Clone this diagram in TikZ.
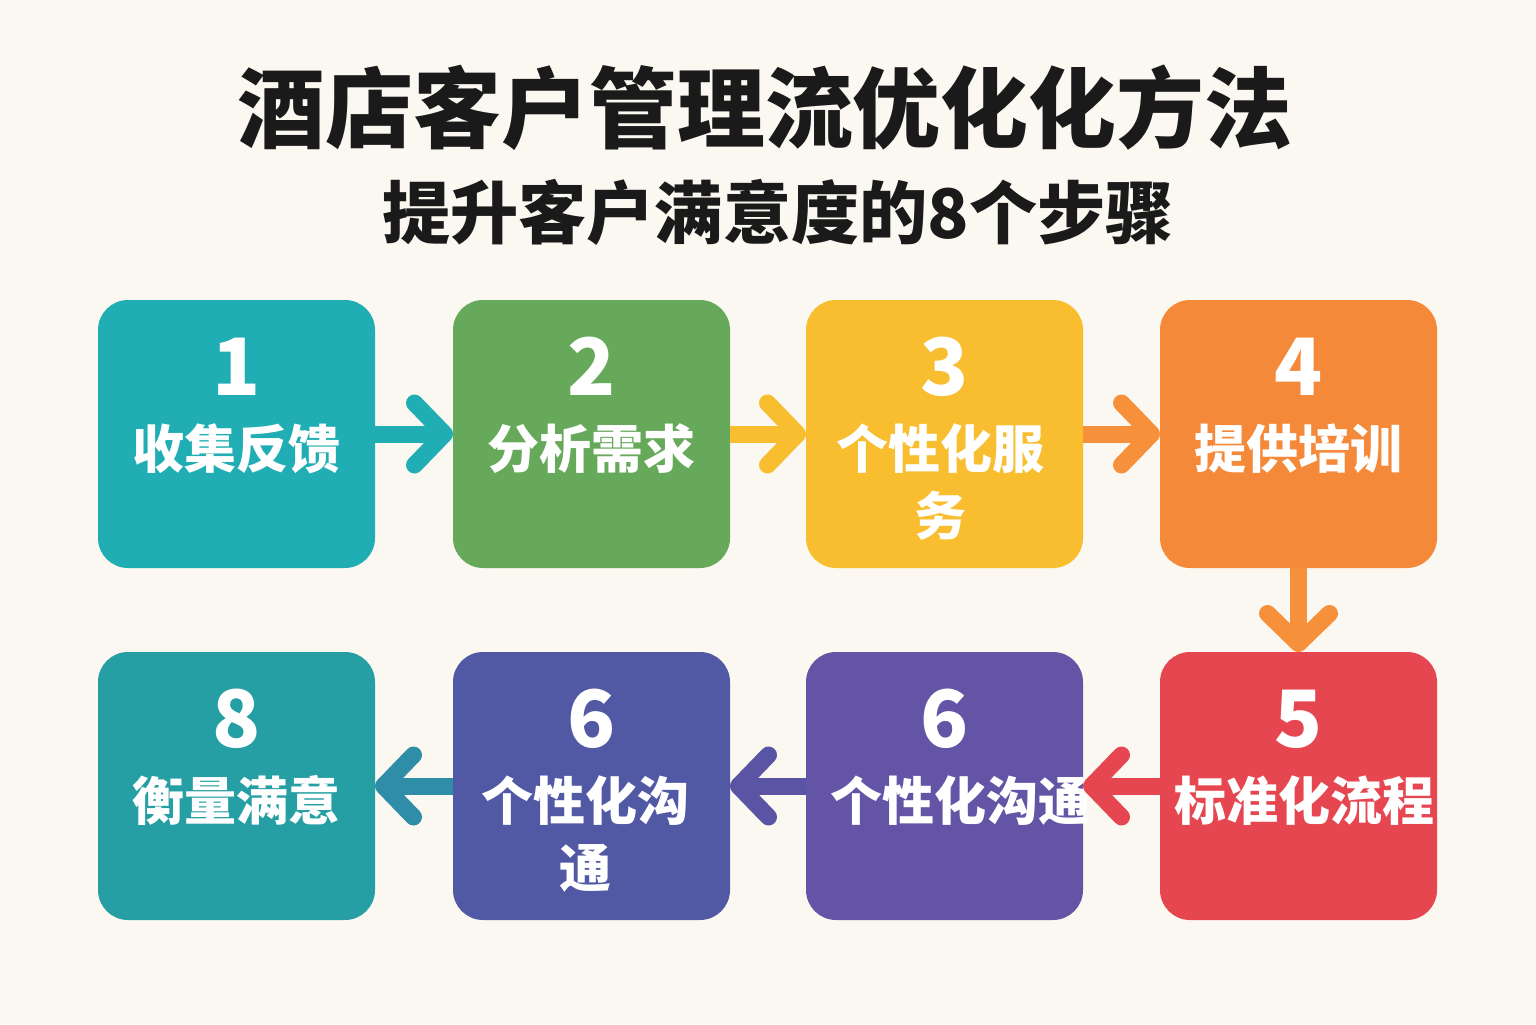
\documentclass[tikz,border=0pt]{standalone}
\usepackage{fontspec}
\setmainfont{Noto Sans CJK SC}
\usetikzlibrary{positioning,arrows.meta}

\definecolor{bgcream}{HTML}{FBF8F1}
\definecolor{titleink}{HTML}{1A1A1A}
\definecolor{cteal}{HTML}{20AEB4}
\definecolor{cgreen}{HTML}{66A95B}
\definecolor{cyellow}{HTML}{F8BE2F}
\definecolor{corange}{HTML}{F5893A}
\definecolor{cred}{HTML}{E5464F}
\definecolor{cpurple}{HTML}{6454A6}
\definecolor{cindigo}{HTML}{5259A4}
\definecolor{cteal2}{HTML}{259FA3}
\definecolor{aorange}{HTML}{F6903A}
\definecolor{aindigo}{HTML}{5A54A5}
\definecolor{ablue}{HTML}{2F8DA7}

\begin{document}
\begin{tikzpicture}
\tikzstyle{stepbox} = [rectangle, rounded corners=0.3cm, minimum width=2.77cm, minimum height=2.68cm, inner sep=0pt, outer sep=0pt]
\tikzstyle{num}     = [text=white, font=\fontsize{22.5pt}{24pt}\selectfont\bfseries, anchor=base, inner sep=0pt]
\tikzstyle{lbl}     = [text=white, font=\fontsize{14.8pt}{19pt}\selectfont\bfseries, anchor=base, align=center, inner sep=0pt]
\tikzstyle{arrow}   = [line width=0.17cm, -{Straight Barb[length=0.3cm, width=0.62cm, round]}]

\fill[bgcream] (0,0) rectangle (15.36,10.24);
\useasboundingbox (0,0) rectangle (15.36,10.24);

% title
\node (title)    [font=\fontsize{25pt}{28pt}\selectfont\bfseries, text=titleink] at (7.65,9.16) {酒店客户管理流优化化方法};
\node (subtitle) [font=\fontsize{19.4pt}{22pt}\selectfont\bfseries, text=titleink] at (7.78,8.12) {提升客户满意度的8个步骤};

% steps
\node (collect)  [stepbox, fill=cteal]                          at (2.365,5.90) {};
\node (analyze)  [stepbox, fill=cgreen,  right=0.78cm of collect] {};
\node (service)  [stepbox, fill=cyellow, right=0.76cm of analyze] {};
\node (train)    [stepbox, fill=corange, right=0.77cm of service] {};
\node (standard) [stepbox, fill=cred,    below=0.84cm of train]   {};
\node (commb)    [stepbox, fill=cpurple, left=0.77cm of standard] {};
\node (comma)    [stepbox, fill=cindigo, left=0.76cm of commb]    {};
\node (measure)  [stepbox, fill=cteal2,  left=0.78cm of comma]    {};

\node (n1) [num] at ([yshift=-0.95cm]collect.north)  {1};
\node (t1) [lbl] at ([yshift=-1.68cm]collect.north)  {收集反馈};
\node (n2) [num] at ([yshift=-0.95cm]analyze.north)  {2};
\node (t2) [lbl] at ([yshift=-1.68cm]analyze.north)  {分析需求};
\node (n3) [num] at ([yshift=-0.95cm]service.north)  {3};
\node (t3) [lbl] at ([xshift=-0.04cm,yshift=-2.35cm]service.north) {个性化服\\务};
\node (n4) [num] at ([yshift=-0.95cm]train.north)    {4};
\node (t4) [lbl] at ([yshift=-1.68cm]train.north)    {提供培训};
\node (n5) [num] at ([yshift=-0.95cm]standard.north) {5};
\node (t5) [lbl] at ([xshift=0.06cm,yshift=-1.68cm]standard.north) {标准化流程};
\node (n6) [num] at ([yshift=-0.95cm]commb.north)    {6};
\node (t6) [lbl] at ([xshift=0.16cm,yshift=-1.68cm]commb.north) {个性化沟通};
\node (n7) [num] at ([yshift=-0.95cm]comma.north)    {6};
\node (t7) [lbl] at ([xshift=-0.06cm,yshift=-2.35cm]comma.north) {个性化沟\\通};
\node (n8) [num] at ([yshift=-0.95cm]measure.north)  {8};
\node (t8) [lbl] at ([yshift=-1.68cm]measure.north)  {衡量满意};

% flow
\draw [arrow, cteal]   (collect)  -- (analyze);
\draw [arrow, cyellow] (analyze)  -- (service);
\draw [arrow, aorange] (service)  -- (train);
\draw [arrow, aorange] (train)    -- (standard);
\draw [arrow, cred]    (standard) -- (commb);
\draw [arrow, aindigo] (commb)    -- (comma);
\draw [arrow, ablue]   (comma)    -- (measure);
\end{tikzpicture}
\end{document}
